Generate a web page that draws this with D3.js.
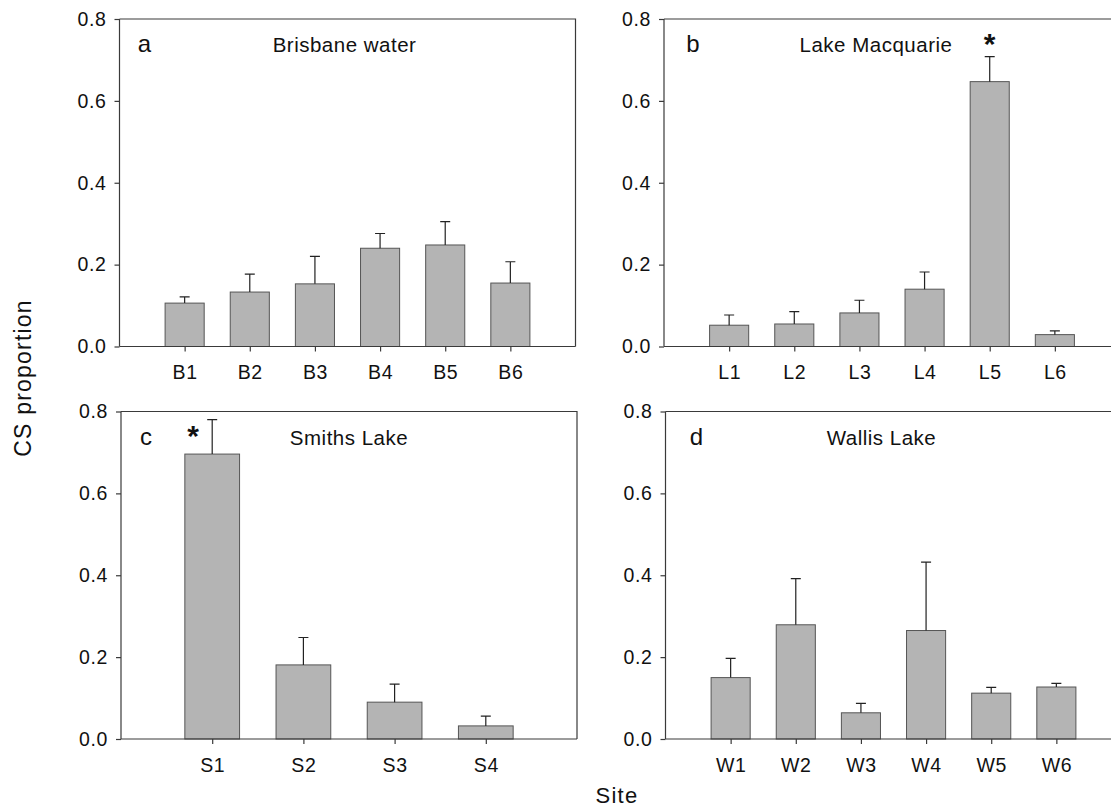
<!DOCTYPE html>
<html><head><meta charset="utf-8">
<script src="https://cdn.jsdelivr.net/npm/d3@7"></script>
<style>body{margin:0;background:#fff}svg{display:block}text{font-family:"Liberation Sans",Arial,sans-serif;fill:#111}</style>
</head><body>
<script>
// ---- data ----
const panelLetters = ["a","b","c","d"];
const panelTitles = ["Brisbane water","Lake Macquarie","Smiths Lake","Wallis Lake"];
const sitesA = ["B1","B2","B3","B4","B5","B6"];
const meanA  = [0.106,0.133,0.153,0.240,0.248,0.155];
const seA    = [0.015,0.044,0.067,0.036,0.057,0.052];
const sitesB = ["L1","L2","L3","L4","L5","L6"];
const meanB  = [0.052,0.055,0.082,0.140,0.647,0.029];
const seB    = [0.025,0.030,0.031,0.042,0.061,0.009];
const sitesC = ["S1","S2","S3","S4"];
const meanC  = [0.696,0.181,0.090,0.032];
const seC    = [0.084,0.067,0.044,0.024];
const sitesD = ["W1","W2","W3","W4","W5","W6"];
const meanD  = [0.150,0.279,0.064,0.265,0.112,0.127];
const seD    = [0.047,0.113,0.023,0.167,0.014,0.009];
const yTicks = [0,0.2,0.4,0.6,0.8];
const signifA = [], signifB = ["L5"], signifC = ["S1"], signifD = [];

// ---- layout ----
const W = 1111, H = 809;
const svg = d3.select("body").append("svg").attr("width",W).attr("height",H);
const pw = 456, ph = 327.5;
const layout = [
  {x:119.5, y:19,    letterDx:25, titleDx:225, starDx:0,   starY:42},
  {x:664,   y:19,    letterDx:29, titleDx:212, starDx:0,   starY:42},
  {x:121,   y:411.5, letterDx:25, titleDx:228, starDx:-19, starY:434},
  {x:665.5, y:411.5, letterDx:31, titleDx:216, starDx:0,   starY:0}
];
const sets = [
  {sites:sitesA, mean:meanA, se:seA, sig:signifA},
  {sites:sitesB, mean:meanB, se:seB, sig:signifB},
  {sites:sitesC, mean:meanC, se:seC, sig:signifC},
  {sites:sitesD, mean:meanD, se:seD, sig:signifD}
];
const axisCol = "#3a3a3a";

sets.forEach((s,i)=>{
  const L = layout[i];
  const g = svg.append("g").attr("transform",`translate(${L.x},${L.y})`);
  const x = d3.scalePoint().domain(s.sites).range([0,pw]).padding(1);
  const step = x.step();
  const y = d3.scaleLinear().domain([0,0.8]).range([ph,0]);
  const bw = step*0.6;
  const data = s.sites.map((k,j)=>({k, m:s.mean[j], e:s.se[j]}));

  // frame top/right
  g.append("path").attr("d",`M0,0H${pw}V${ph}`).attr("fill","none").attr("stroke",axisCol).attr("stroke-width",1.2);

  // bars
  g.selectAll("rect.bar").data(data).join("rect")
    .attr("x",d=>x(d.k)-bw/2).attr("width",bw)
    .attr("y",d=>y(d.m)).attr("height",d=>ph-y(d.m))
    .attr("fill","#b4b4b4").attr("stroke","#555").attr("stroke-width",1);
  // error bars
  g.selectAll("path.err").data(data).join("path")
    .attr("d",d=>`M${x(d.k)},${y(d.m)}V${y(d.m+d.e)}M${x(d.k)-5},${y(d.m+d.e)}H${x(d.k)+5}`)
    .attr("stroke","#222").attr("stroke-width",1.2).attr("fill","none");

  // axes
  const ya = g.append("g").call(d3.axisLeft(y).tickValues(yTicks).tickFormat(d3.format(".1f")).tickSize(5).tickPadding(8));
  const xa = g.append("g").attr("transform",`translate(0,${ph})`).call(d3.axisBottom(x).tickSize(5).tickPadding(14));
  [ya,xa].forEach(a=>{
    a.select(".domain").attr("stroke",axisCol).attr("stroke-width",1.2);
    a.selectAll(".tick line").attr("stroke",axisCol).attr("stroke-width",1.2);
    a.selectAll(".tick text").attr("font-size",19.5).attr("letter-spacing",0.6).attr("fill","#111")
     .style("font-family",'"Liberation Sans",Arial,sans-serif');
  });
  ya.select(".domain").attr("d",`M0,0V${ph}`);
  xa.select(".domain").attr("d",`M0,0H${pw}`);

  // letter & title
  g.append("text").attr("x",L.letterDx).attr("y",33).attr("text-anchor","middle")
    .attr("font-size",24).text(panelLetters[i]);
  g.append("text").attr("x",L.titleDx).attr("y",33).attr("text-anchor","middle")
    .attr("font-size",20.5).attr("letter-spacing",0.5).text(panelTitles[i]);

  // significance stars
  g.selectAll("text.star").data(data.filter(d=>s.sig.includes(d.k))).join("text")
    .attr("x",d=>x(d.k)+L.starDx).attr("y",L.starY-L.y+12).attr("text-anchor","middle")
    .attr("font-size",30).attr("font-weight","bold").text("*");
});

// axis titles
svg.append("text").attr("transform","translate(31,378) rotate(-90)").attr("text-anchor","middle")
  .attr("font-size",23).attr("letter-spacing",1.2).text("CS proportion");
svg.append("text").attr("x",617).attr("y",803).attr("text-anchor","middle")
  .attr("font-size",22).attr("letter-spacing",1.3).text("Site");
</script>
</body></html>
